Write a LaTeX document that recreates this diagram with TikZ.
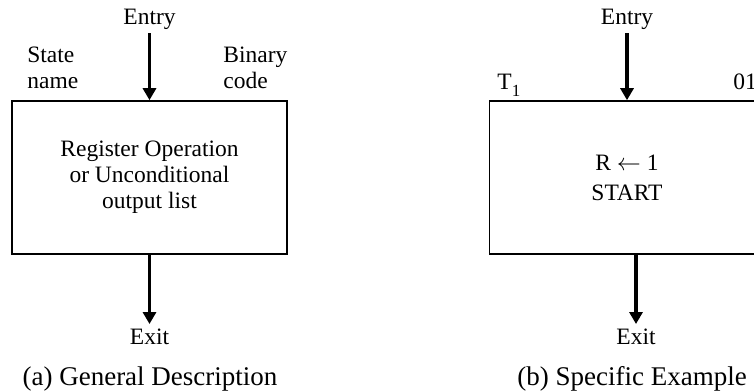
\documentclass[tikz,border=0pt]{standalone}
\usepackage{fontspec}
\setmainfont{Liberation Serif}
\usetikzlibrary{arrows.meta}
\begin{document}
\begin{tikzpicture}[x=0.5pt,y=-0.5pt,
  txt/.style={font=\fontsize{11.75}{13}\selectfont, inner sep=0pt},
  captxt/.style={font=\fontsize{13.5}{15}\selectfont, inner sep=0pt},
  statebox/.style={draw, line width=0.8pt, minimum width=137.5pt, minimum height=76.5pt,
    inner sep=0pt, align=center, font=\fontsize{11.75}{13}\selectfont},
  flow/.style={line width=1.6pt, -{Triangle[width=6.5pt,length=6pt]}}]
\useasboundingbox (0,0) rectangle (754,391);
% (a)
\node[statebox] (boxA) at (149.5,177.5) {Register Operation\\or Unconditional\\output list};
\node[txt, anchor=base, inner sep=1.5pt] (entryA) at (149.5,25) {Entry};
\node[txt, anchor=base, inner sep=2pt] (exitA) at (149.5,344) {Exit};
\node[txt, anchor=base west, align=left] (nameA) at (27,88) {State\\name};
\node[txt, anchor=base west, align=left] (codeA) at (223,88) {Binary\\code};
\node[captxt, anchor=base] (capA) at (150,385) {(a) General Description};
\draw[flow] (entryA.south) -- (boxA.north);
\draw[flow] (boxA.south) -- (exitA.north);
% (b)
\node[statebox] (boxB) at (627,177.5) {R $\leftarrow$ 1\\[2pt]START};
\node[txt, anchor=base, inner sep=1.5pt] (entryB) at (627,25) {Entry};
\node[txt, anchor=base, inner sep=2pt] (exitB) at (636,344) {Exit};
\node[txt, anchor=base west] (nameB) at (497,89) {T\raisebox{-3.5pt}{\fontsize{8.5}{8.5}\selectfont 1}};
\node[txt, anchor=base west] (codeB) at (733,89) {01};
\node[captxt, anchor=base] (capB) at (632,385) {(b) Specific Example};
\draw[flow] (entryB.south) -- (boxB.north);
\draw[flow] (exitB.north |- boxB.south) -- (exitB.north);
\end{tikzpicture}
\end{document}
